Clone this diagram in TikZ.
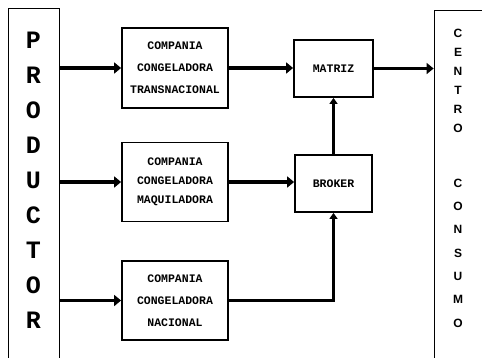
\documentclass[tikz,border=0pt]{standalone}
\usepackage{fontspec}
\newfontfamily\boxfont{Liberation Mono}
\newfontfamily\sidefont{Liberation Sans}
\usetikzlibrary{arrows.meta}
\begin{document}
\begin{tikzpicture}[x=1pt,y=-1pt,
  blk/.style={draw, line width=1.8pt, inner sep=0pt, align=center,
    font=\boxfont\bfseries\fontsize{11.5}{22}\selectfont},
  side/.style={draw, line width=0.8pt, inner sep=0pt},
  arr/.style={line width=3.8pt, -{Triangle[length=7pt,width=11pt]}},
  arrv/.style={line width=3pt, -{Triangle[length=6pt,width=8pt]}}]
\useasboundingbox (0,0) rectangle (482,357);
% side blocks
\node[side, minimum width=51pt, minimum height=370pt] (prod) at (33.5,193) {};
\node[font=\boxfont\bfseries\fontsize{25}{35}\selectfont, align=center, inner sep=0pt] (prodtxt) at (33.5,180) {P\\R\\O\\D\\U\\C\\T\\O\\R};
\node[side, minimum width=80pt, minimum height=370pt] (centro) at (474,195) {};
\node[font=\sidefont\bfseries\fontsize{12}{19}\selectfont, align=center, inner sep=0pt] (ce1) at (458,80.5) {C\\E\\N\\T\\R\\O};
\node[font=\sidefont\bfseries\fontsize{12}{23.3}\selectfont, align=center, inner sep=0pt] (ce2) at (458,253) {C\\O\\N\\S\\U\\M\\O};
% companies
\node[blk, minimum width=106pt, minimum height=80pt] (t1) at (175,68) {COMPANIA\\CONGELADORA\\TRANSNACIONAL};
\node[blk, minimum width=106pt, minimum height=79pt, font=\boxfont\bfseries\fontsize{11.5}{19}\selectfont] (t2) at (175,182) {COMPANIA\\CONGELADORA\\MAQUILADORA};
\node[blk, minimum width=106pt, minimum height=79pt] (t3) at (175,300.5) {COMPANIA\\CONGELADORA\\NACIONAL};
\node[blk, minimum width=79pt, minimum height=57pt] (matriz) at (333.5,68.5) {MATRIZ};
\node[blk, minimum width=77pt, minimum height=57pt] (broker) at (333.5,183.5) {BROKER};
% connectors
\draw[arr] (prod.east |- t1.west) -- (t1.west);
\draw[arr] (prod.east |- t2.west) -- (t2.west);
\draw[arr] (prod.east |- t3.west) -- (t3.west);
\draw[arr] (t1.east) -- (t1.east -| matriz.west);
\draw[arr] (matriz.east) -- (centro.west |- matriz.east);
\draw[arr] (t2.east) -- (t2.east -| broker.west);
\draw[arrv] (t3.east) -| (broker.south);
\draw[arrv] (broker.north) -- (matriz.south);
\end{tikzpicture}
\end{document}
